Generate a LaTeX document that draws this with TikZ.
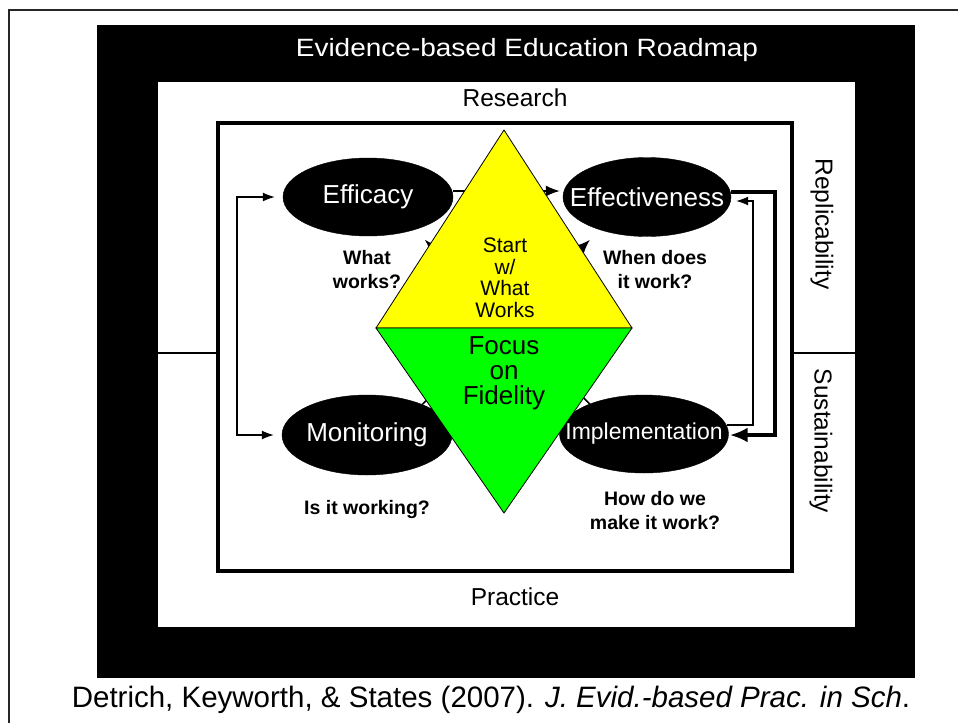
\documentclass[tikz,border=0pt]{standalone}
\usepackage{fontspec}
\setmainfont{Liberation Sans}
\usepackage{graphicx}
\usetikzlibrary{arrows.meta,shapes.geometric}
\definecolor{dyel}{RGB}{255,255,0}
\definecolor{dgrn}{RGB}{0,255,0}
\begin{document}
\begin{tikzpicture}[x=1pt,y=-1pt,
  ell/.style={ellipse, fill=black, draw=black, minimum width=170pt, minimum height=78pt,
    inner sep=0pt, text=white, font=\fontsize{26}{30}\selectfont},
  qtext/.style={font=\bfseries\fontsize{19.5}{24}\selectfont, align=center},
  lab/.style={font=\fontsize{24.5}{28}\selectfont},
  thinarr/.style={line width=1.2pt, -{Latex[length=12pt,width=9pt]}},
  thickarr/.style={line width=4pt, -{Latex[length=18pt,width=15pt]}},
  medarr/.style={line width=1.6pt, -{Latex[length=14pt,width=11pt]}}
]
\useasboundingbox (0,0) rectangle (958,723);
% slide border
\draw[line width=2pt, black!85] (9,723) -- (9,10) -- (958,10);
% frames
\fill[black] (97,25) rectangle (915,678);
\fill[white] (158,82) rectangle (855,627);
\draw[line width=4pt] (218,123) rectangle (792,571);
\draw[line width=2pt] (158,353) -- (218,353);
\draw[line width=2pt] (792,353) -- (855,353);

\node[text=white, font=\fontsize{25}{30}\selectfont] (title) at (527,50) {\scalebox{1.12}[1]{Evidence-based Education Roadmap}};
\node[lab] (research) at (515,98) {Research};
\node[lab] (practice) at (515,597) {Practice};
\node[lab, rotate=-90] (repl) at (822,224) {Replicability};
\node[lab, rotate=-90] (sust) at (821,441) {Sustainability};

% ellipses
\node[ell] (eff) at (368,197) {\makebox[0pt]{Efficacy}};
\node[ell, minimum width=168pt, minimum height=79pt] (eft) at (647,197) {\makebox[0pt]{Effectiveness}};
\node[ell, minimum height=80pt] (mon) at (367,435) {\makebox[0pt]{Monitoring}};
\node[ell, minimum width=169pt, font=\fontsize{23}{28}\selectfont] (imp) at (644,434) {\makebox[0pt]{Implementation}};

% questions
\node[qtext] (qa) at (367,270) {What\\works?};
\node[qtext] (qb) at (655,270) {When does\\it work?};
\node[qtext] (qc) at (367,509) {Is it working?};
\node[qtext] (qd) at (655,511) {How do we\\make it work?};

% left loop
\coordinate (LT) at (237,197);
\coordinate (LB) at (237,435);
\draw[line width=1.2pt, {Latex[length=12pt,width=9pt]}-{Latex[length=12pt,width=9pt]}, shorten <=8pt, shorten >=8pt]
  (eff.west) -- (LT) -- (LB) -- (mon.west);

% right loops
\coordinate (RT1) at (775,192);
\coordinate (RB1) at (775,435);
\draw[thickarr, shorten >=1pt] (eft.east |- RT1) -- (RT1) -- (RB1) -- (imp.east |- RB1);
\coordinate (RT2) at (753,201);
\coordinate (RB2) at (753,425);
\draw[thinarr, shorten >=5pt] ([xshift=-2pt]imp.east |- RB2) -- (RB2) -- (RT2) -- (eft.east |- RT2);

% arrows partly hidden by the diamond
\draw[medarr, shorten >=3pt] ([yshift=6pt]eff.east) -- ([yshift=6pt]eft.west);
\draw[medarr, shorten >=14pt] (mon.29) -- (eft.215);
\draw[medarr, shorten >=14pt] (imp.151) -- (eff.325);

% diamond
\coordinate (dT) at (504,130);
\coordinate (dL) at (376,328);
\coordinate (dR) at (632,328);
\coordinate (dB) at (504,513);
\draw[fill=dyel, line width=0.8pt] (dT) -- (dL) -- (dR) -- cycle;
\draw[fill=dgrn, line width=0.8pt] (dL) -- (dR) -- (dB) -- cycle;
\node[font=\fontsize{21}{21.5}\selectfont, align=center] (start) at (505,278) {Start\\w/\\What\\Works};
\node[font=\fontsize{26}{25}\selectfont, align=center] (focus) at (504,373) {Focus\\on\\Fidelity};

% caption
\node[font=\fontsize{29.5}{34}\selectfont] (cap) at (491,700) {Detrich, Keyworth, \& States (2007). \textit{J. Evid.-based Prac. in Sch}.};
\end{tikzpicture}
\end{document}
